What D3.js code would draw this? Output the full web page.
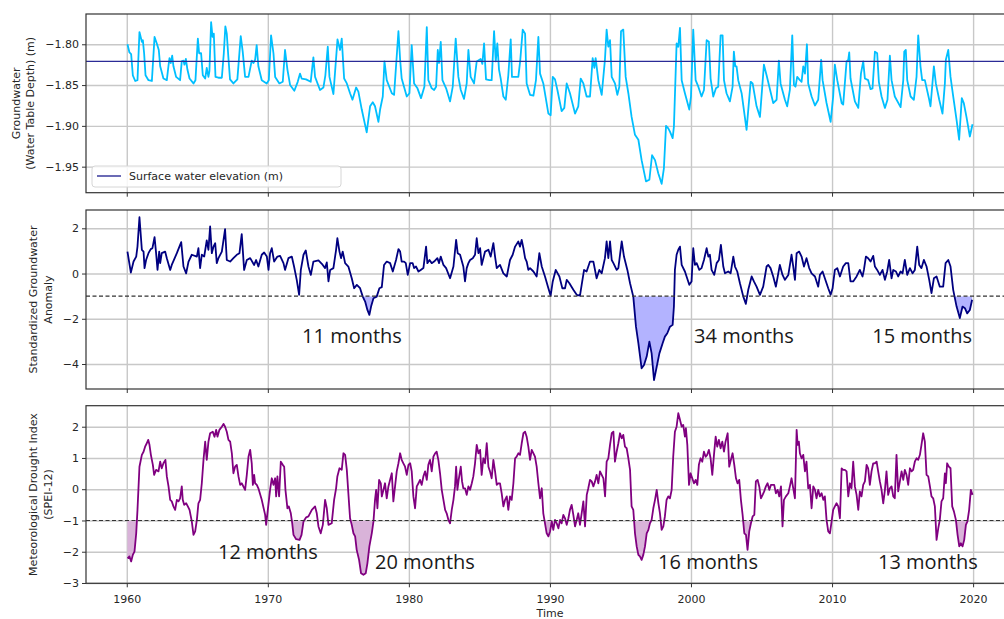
<!DOCTYPE html>
<html>
<head>
<meta charset="utf-8">
<script src="https://cdn.jsdelivr.net/npm/d3@7"></script>
<style>
  body { margin: 0; background: #ffffff; }
  svg text { font-family: "DejaVu Sans", sans-serif; }
  .tick text { font-size: 11px; fill: #262626; }
  .axis-title { font-size: 11px; fill: #262626; }
  .legend-text { font-size: 11px; fill: #262626; }
  .note { font-family: "Open Sans", sans-serif; font-size: 20px; fill: #1a1a1a; }
</style>
</head>
<body>
<div id="app"></div>
<script>
// ---- data (decimal years) ----
const xTicks = [1960, 1970, 1980, 1990, 2000, 2010, 2020];
const gwTicks = [-1.80, -1.85, -1.90, -1.95];
const sgiTicks = [2, 0, -2, -4];
const speiTicks = [2, 1, 0, -1, -2, -3];
const surfaceElevation = -1.821;
const droughtThreshold = -1;

// groundwater, water table depth (m)
const gwYears = [1960.05,1960.19,1960.31,1960.43,1960.6,1960.76,1960.9,1961.07,1961.14,1961.23,1961.33,1961.54,1961.78,1961.97,1962.13,1962.27,1962.37,1962.6,1962.84,1962.96,1963.03,1963.12,1963.22,1963.31,1963.5,1963.78,1963.9,1964.02,1964.09,1964.19,1964.3,1964.45,1964.73,1964.87,1965.04,1965.13,1965.27,1965.39,1965.56,1965.67,1965.79,1965.86,1965.98,1966.08,1966.17,1966.29,1966.5,1966.74,1966.88,1966.99,1967.09,1967.2,1967.32,1967.56,1967.84,1968.08,1968.22,1968.39,1968.63,1968.86,1968.98,1969.1,1969.21,1969.33,1969.57,1969.92,1970.07,1970.23,1970.4,1970.52,1970.82,1971.06,1971.22,1971.39,1971.58,1971.88,1972.12,1972.28,1972.4,1972.71,1973.04,1973.23,1973.35,1973.7,1973.94,1974.08,1974.25,1974.37,1974.65,1974.94,1975.12,1975.24,1975.41,1975.6,1975.83,1976.0,1976.26,1976.42,1976.66,1977.01,1977.25,1977.44,1977.6,1977.84,1977.96,1978.15,1978.27,1978.43,1978.79,1978.95,1979.26,1979.38,1979.49,1979.85,1980.04,1980.2,1980.37,1980.61,1980.86,1981.1,1981.27,1981.38,1981.62,1981.79,1981.93,1982.05,1982.14,1982.26,1982.38,1982.64,1982.92,1983.11,1983.32,1983.51,1983.68,1983.91,1984.1,1984.22,1984.38,1984.62,1984.81,1985.09,1985.21,1985.33,1985.47,1985.71,1985.87,1986.04,1986.16,1986.27,1986.39,1986.51,1986.7,1986.87,1987.05,1987.22,1987.31,1987.76,1987.9,1988.07,1988.24,1988.35,1988.59,1988.83,1989.01,1989.18,1989.3,1989.53,1989.89,1990.05,1990.2,1990.36,1990.53,1990.83,1991.02,1991.19,1991.42,1991.78,1992.01,1992.18,1992.37,1992.6,1992.84,1993.03,1993.15,1993.24,1993.43,1993.67,1993.9,1994.02,1994.14,1994.26,1994.38,1994.61,1994.78,1994.92,1995.04,1995.2,1995.37,1995.56,1995.79,1996.03,1996.27,1996.5,1996.81,1997.05,1997.24,1997.45,1997.68,1997.92,1998.08,1998.23,1998.39,1998.51,1998.7,1998.79,1998.98,1999.1,1999.22,1999.34,1999.57,1999.88,2000.0,2000.16,2000.33,2000.52,2000.75,2000.92,2001.11,2001.27,2001.39,2001.58,2001.77,2001.93,2002.1,2002.24,2002.34,2002.52,2002.76,2002.95,2003.04,2003.14,2003.23,2003.35,2003.59,2003.94,2004.23,2004.37,2004.65,2004.89,2005.17,2005.36,2005.83,2006.07,2006.23,2006.35,2006.66,2006.82,2007.01,2007.18,2007.3,2007.41,2007.53,2007.72,2007.84,2007.96,2008.08,2008.22,2008.31,2008.55,2008.79,2009.02,2009.23,2009.33,2009.61,2009.9,2010.08,2010.2,2010.37,2010.68,2010.79,2011.03,2011.15,2011.22,2011.31,2011.62,2011.86,2012.05,2012.21,2012.33,2012.56,2012.73,2012.87,2013.04,2013.2,2013.32,2013.51,2013.75,2013.93,2014.1,2014.22,2014.45,2014.86,2015.05,2015.12,2015.23,2015.33,2015.57,2015.8,2015.99,2016.11,2016.27,2016.39,2016.58,2016.89,2016.98,2017.22,2017.36,2017.6,2017.83,2018.0,2018.07,2018.24,2018.4,2018.59,2018.83,2019.01,2019.2,2019.34,2019.53,2019.77,2019.96];
const gwDepth = [-1.800,-1.810,-1.812,-1.838,-1.845,-1.844,-1.785,-1.797,-1.795,-1.811,-1.838,-1.844,-1.845,-1.791,-1.799,-1.807,-1.827,-1.842,-1.844,-1.826,-1.817,-1.823,-1.814,-1.827,-1.840,-1.844,-1.821,-1.820,-1.825,-1.818,-1.831,-1.842,-1.848,-1.844,-1.793,-1.811,-1.811,-1.838,-1.842,-1.829,-1.840,-1.833,-1.773,-1.791,-1.787,-1.840,-1.841,-1.841,-1.811,-1.778,-1.787,-1.815,-1.843,-1.848,-1.843,-1.790,-1.809,-1.840,-1.840,-1.820,-1.823,-1.819,-1.801,-1.827,-1.844,-1.848,-1.844,-1.789,-1.811,-1.840,-1.848,-1.846,-1.807,-1.831,-1.850,-1.857,-1.846,-1.836,-1.842,-1.843,-1.846,-1.816,-1.840,-1.856,-1.853,-1.838,-1.803,-1.840,-1.861,-1.794,-1.807,-1.793,-1.842,-1.848,-1.860,-1.868,-1.853,-1.858,-1.880,-1.908,-1.876,-1.871,-1.876,-1.895,-1.880,-1.864,-1.821,-1.844,-1.860,-1.862,-1.784,-1.819,-1.842,-1.864,-1.860,-1.801,-1.848,-1.854,-1.866,-1.852,-1.779,-1.844,-1.854,-1.856,-1.852,-1.807,-1.823,-1.797,-1.844,-1.854,-1.870,-1.852,-1.793,-1.840,-1.856,-1.867,-1.848,-1.807,-1.840,-1.848,-1.821,-1.818,-1.824,-1.799,-1.843,-1.844,-1.844,-1.784,-1.821,-1.799,-1.831,-1.842,-1.864,-1.868,-1.838,-1.794,-1.840,-1.840,-1.819,-1.782,-1.787,-1.848,-1.862,-1.863,-1.844,-1.791,-1.836,-1.848,-1.885,-1.887,-1.840,-1.843,-1.856,-1.882,-1.878,-1.848,-1.860,-1.885,-1.876,-1.842,-1.848,-1.864,-1.864,-1.817,-1.829,-1.817,-1.844,-1.862,-1.819,-1.782,-1.803,-1.795,-1.840,-1.848,-1.862,-1.852,-1.784,-1.782,-1.840,-1.860,-1.889,-1.911,-1.917,-1.942,-1.968,-1.966,-1.936,-1.942,-1.958,-1.971,-1.952,-1.900,-1.903,-1.907,-1.915,-1.901,-1.799,-1.803,-1.780,-1.844,-1.860,-1.880,-1.864,-1.782,-1.844,-1.852,-1.864,-1.856,-1.795,-1.797,-1.842,-1.864,-1.854,-1.852,-1.789,-1.789,-1.844,-1.860,-1.870,-1.852,-1.809,-1.827,-1.827,-1.844,-1.860,-1.905,-1.846,-1.848,-1.876,-1.889,-1.825,-1.838,-1.872,-1.868,-1.820,-1.848,-1.868,-1.876,-1.856,-1.789,-1.850,-1.852,-1.840,-1.844,-1.846,-1.827,-1.836,-1.800,-1.848,-1.864,-1.875,-1.868,-1.819,-1.844,-1.872,-1.895,-1.864,-1.825,-1.844,-1.872,-1.874,-1.821,-1.819,-1.810,-1.842,-1.870,-1.878,-1.836,-1.821,-1.842,-1.844,-1.855,-1.854,-1.809,-1.811,-1.846,-1.864,-1.878,-1.868,-1.814,-1.844,-1.864,-1.877,-1.844,-1.809,-1.807,-1.844,-1.864,-1.868,-1.840,-1.789,-1.827,-1.844,-1.844,-1.868,-1.876,-1.827,-1.848,-1.868,-1.885,-1.848,-1.819,-1.807,-1.840,-1.864,-1.893,-1.917,-1.866,-1.872,-1.889,-1.913,-1.898];

// standardized groundwater anomaly
const sgiYears = [1960.05,1960.29,1960.48,1960.67,1960.76,1960.9,1961.07,1961.19,1961.26,1961.37,1961.54,1961.7,1961.82,1961.97,1962.08,1962.18,1962.3,1962.37,1962.48,1962.72,1962.84,1963.08,1963.19,1963.55,1963.86,1964.02,1964.21,1964.38,1964.61,1964.97,1965.08,1965.2,1965.32,1965.49,1965.67,1965.79,1965.91,1966.03,1966.15,1966.27,1966.38,1966.5,1966.74,1966.97,1967.09,1967.33,1967.56,1967.8,1967.99,1968.15,1968.32,1968.51,1968.75,1969.03,1969.17,1969.33,1969.57,1969.74,1969.93,1970.05,1970.16,1970.28,1970.45,1970.68,1970.87,1971.11,1971.22,1971.46,1971.7,1971.86,1972.05,1972.22,1972.34,1972.53,1972.69,1972.88,1973.05,1973.23,1973.59,1973.83,1974.06,1974.18,1974.3,1974.42,1974.65,1974.84,1974.93,1975.08,1975.19,1975.31,1975.48,1975.71,1975.95,1976.12,1976.31,1976.54,1976.73,1976.9,1977.06,1977.2,1977.32,1977.49,1977.72,1977.91,1978.08,1978.24,1978.43,1978.67,1978.86,1979.09,1979.26,1979.38,1979.49,1979.66,1979.78,1979.92,1980.09,1980.27,1980.37,1980.51,1980.68,1980.84,1981.03,1981.22,1981.31,1981.46,1981.62,1981.79,1982.02,1982.14,1982.26,1982.45,1982.64,1982.92,1983.16,1983.35,1983.46,1983.63,1983.86,1983.98,1984.1,1984.22,1984.34,1984.53,1984.69,1984.81,1984.93,1985.05,1985.16,1985.4,1985.64,1985.8,1985.99,1986.11,1986.23,1986.46,1986.7,1986.94,1987.17,1987.36,1987.53,1987.76,1987.88,1988.0,1988.12,1988.24,1988.35,1988.47,1988.59,1988.83,1989.06,1989.25,1989.42,1989.65,1989.89,1990.05,1990.2,1990.41,1990.67,1990.88,1991.07,1991.19,1991.38,1991.66,1991.9,1992.13,1992.25,1992.42,1992.6,1992.84,1993.08,1993.31,1993.5,1993.67,1993.9,1994.02,1994.14,1994.26,1994.38,1994.5,1994.73,1994.85,1995.09,1995.25,1995.49,1995.68,1995.91,1996.1,1996.27,1996.5,1996.67,1996.86,1997.05,1997.21,1997.38,1997.57,1997.76,1997.99,1998.15,1998.32,1998.51,1998.7,1998.79,1998.86,1998.98,1999.1,1999.22,1999.34,1999.57,1999.88,2000.04,2000.16,2000.28,2000.4,2000.59,2000.75,2000.92,2001.11,2001.23,2001.34,2001.46,2001.65,2001.82,2001.98,2002.12,2002.29,2002.41,2002.64,2002.81,2003.0,2003.12,2003.28,2003.47,2003.71,2003.89,2004.06,2004.3,2004.46,2004.65,2004.89,2005.12,2005.36,2005.48,2005.64,2005.83,2006.02,2006.19,2006.3,2006.49,2006.66,2006.9,2007.13,2007.25,2007.37,2007.49,2007.67,2007.84,2008.01,2008.19,2008.38,2008.55,2008.79,2009.02,2009.14,2009.33,2009.49,2009.73,2009.9,2010.04,2010.2,2010.37,2010.56,2010.79,2010.98,2011.15,2011.31,2011.5,2011.74,2011.97,2012.16,2012.26,2012.4,2012.56,2012.73,2012.92,2013.04,2013.2,2013.39,2013.58,2013.75,2013.91,2014.05,2014.22,2014.34,2014.53,2014.69,2014.86,2015.0,2015.16,2015.33,2015.52,2015.71,2015.87,2016.04,2016.18,2016.34,2016.51,2016.7,2016.89,2017.05,2017.22,2017.41,2017.64,2017.88,2018.05,2018.24,2018.4,2018.59,2018.83,2019.06,2019.25,2019.42,2019.58,2019.77,2019.93];
const sgiValue = [0.97,0.04,0.53,0.75,1.19,2.49,1.05,0.97,0.24,0.60,0.90,1.08,1.12,1.61,0.90,0.16,0.97,0.46,0.90,0.97,0.68,0.16,0.38,0.90,1.39,0.31,0.01,0.53,0.83,0.75,1.12,0.24,0.83,0.75,1.46,1.05,2.08,0.90,1.19,1.34,0.46,0.68,0.97,1.96,0.60,0.53,0.68,0.83,0.90,1.74,0.16,0.60,0.68,0.38,0.60,0.31,0.83,0.93,0.75,0.16,0.90,1.12,0.53,0.75,0.78,0.46,0.16,0.68,0.75,0.31,-0.28,-0.94,0.16,0.83,1.02,0.31,-0.06,0.53,0.58,0.43,0.24,0.49,-0.35,0.16,0.24,1.05,1.56,0.97,0.68,0.97,0.46,0.31,-0.21,-0.65,-0.50,-0.65,-1.02,-1.24,-1.61,-1.83,-1.46,-1.09,-1.02,-0.65,-0.60,0.38,0.53,0.46,0.09,0.60,1.08,0.97,0.53,0.53,0.46,-0.06,0.46,0.46,0.24,0.31,0.09,0.16,0.24,1.19,0.46,0.60,0.46,0.53,0.68,0.46,0.75,0.38,0.24,-0.21,0.31,1.49,0.90,0.83,0.31,-0.35,0.24,0.46,0.60,0.68,0.83,1.56,0.90,1.12,0.38,0.97,1.05,0.75,1.34,0.75,0.24,0.38,0.01,-0.13,0.60,0.83,1.19,1.42,1.19,1.49,1.12,0.68,0.53,0.16,0.24,0.09,-0.13,0.90,0.31,-0.13,-0.65,-0.98,-0.35,0.16,-0.13,-0.65,-0.65,-0.28,-0.43,-0.72,-0.94,-0.98,-0.50,0.16,0.09,0.53,0.53,-0.21,0.16,0.01,0.68,1.42,0.68,1.42,0.60,0.46,0.16,0.24,1.42,0.75,0.16,-0.43,-1.02,-2.35,-3.08,-4.19,-4.04,-3.67,-3.01,-3.53,-4.71,-4.12,-3.53,-3.08,-2.79,-2.64,-2.35,-2.27,-1.46,0.16,0.83,1.05,1.19,0.38,0.09,-0.50,-0.35,1.12,0.38,0.46,0.16,0.24,0.60,1.12,0.75,0.83,0.16,-0.06,0.46,0.60,1.27,0.31,0.01,0.09,0.01,0.75,0.31,0.09,-0.43,-1.02,-1.34,-0.72,-0.13,-0.35,-0.58,-0.94,-0.58,0.31,0.38,0.24,-0.13,-0.58,0.01,0.38,-0.06,-0.28,-0.06,0.83,0.31,-0.28,0.90,0.97,0.75,0.31,0.68,0.24,0.01,-0.13,-0.58,-0.06,0.09,-0.21,-0.65,-0.94,-0.65,0.16,0.24,-0.13,0.31,0.46,0.46,-0.35,-0.35,-0.13,0.16,-0.13,0.16,0.75,0.68,0.53,0.78,0.31,0.16,-0.06,0.16,-0.28,0.09,0.60,-0.21,0.16,0.09,-0.13,0.09,0.01,0.60,-0.06,0.24,0.01,0.16,1.19,0.38,0.24,0.60,0.31,-0.28,-0.87,-0.21,-0.13,-0.58,-0.58,0.46,0.60,0.31,-0.72,-1.46,-1.97,-1.46,-1.53,-1.76,-1.61,-1.16];

// meteorological drought index, SPEI-12
const speiYears = [1960.05,1960.19,1960.31,1960.43,1960.55,1960.67,1960.76,1960.9,1961.07,1961.19,1961.3,1961.42,1961.52,1961.61,1961.71,1961.85,1961.94,1962.08,1962.25,1962.37,1962.48,1962.6,1962.74,1962.84,1962.96,1963.08,1963.19,1963.31,1963.43,1963.55,1963.67,1963.78,1963.9,1963.97,1964.07,1964.21,1964.33,1964.45,1964.61,1964.73,1964.85,1964.97,1965.08,1965.2,1965.32,1965.44,1965.56,1965.67,1965.79,1965.91,1966.1,1966.22,1966.34,1966.43,1966.57,1966.74,1966.86,1966.97,1967.09,1967.21,1967.33,1967.45,1967.56,1967.68,1967.8,1967.92,1968.04,1968.15,1968.39,1968.51,1968.63,1968.75,1968.86,1968.94,1969.03,1969.1,1969.22,1969.33,1969.57,1969.81,1969.88,1970.0,1970.16,1970.28,1970.4,1970.52,1970.59,1970.68,1970.8,1970.92,1971.06,1971.16,1971.25,1971.39,1971.49,1971.63,1971.73,1971.82,1972.01,1972.25,1972.39,1972.53,1972.72,1972.88,1973.12,1973.35,1973.47,1973.59,1973.75,1973.9,1974.06,1974.18,1974.3,1974.53,1974.7,1974.84,1974.93,1975.08,1975.24,1975.36,1975.48,1975.6,1975.71,1975.83,1975.95,1976.07,1976.19,1976.3,1976.47,1976.61,1976.78,1976.94,1977.06,1977.2,1977.37,1977.49,1977.6,1977.68,1977.77,1977.89,1978.01,1978.08,1978.2,1978.31,1978.43,1978.55,1978.67,1978.79,1978.9,1979.02,1979.14,1979.26,1979.38,1979.49,1979.61,1979.73,1979.85,1979.97,1980.09,1980.2,1980.32,1980.44,1980.56,1980.68,1980.79,1980.91,1981.03,1981.15,1981.27,1981.38,1981.5,1981.62,1981.74,1981.86,1981.97,1982.09,1982.21,1982.33,1982.45,1982.57,1982.68,1982.8,1982.92,1983.04,1983.16,1983.27,1983.35,1983.44,1983.53,1983.68,1983.77,1983.86,1983.98,1984.1,1984.22,1984.34,1984.46,1984.57,1984.69,1984.81,1984.93,1985.05,1985.16,1985.28,1985.4,1985.52,1985.64,1985.75,1985.87,1985.99,1986.11,1986.23,1986.35,1986.46,1986.58,1986.7,1986.82,1986.94,1987.05,1987.17,1987.29,1987.41,1987.53,1987.64,1987.76,1987.88,1988.0,1988.12,1988.24,1988.35,1988.47,1988.59,1988.71,1988.83,1988.94,1989.06,1989.18,1989.3,1989.42,1989.53,1989.65,1989.77,1989.89,1990.01,1990.13,1990.24,1990.36,1990.48,1990.6,1990.72,1990.83,1990.95,1991.07,1991.19,1991.31,1991.42,1991.54,1991.66,1991.78,1991.9,1992.01,1992.13,1992.25,1992.37,1992.49,1992.61,1992.72,1992.84,1992.96,1993.08,1993.2,1993.31,1993.43,1993.55,1993.67,1993.79,1993.91,1994.02,1994.14,1994.26,1994.38,1994.5,1994.61,1994.73,1994.85,1994.97,1995.09,1995.2,1995.32,1995.44,1995.56,1995.68,1995.79,1995.91,1996.03,1996.15,1996.27,1996.38,1996.5,1996.62,1996.74,1996.86,1996.98,1997.09,1997.21,1997.33,1997.45,1997.57,1997.69,1997.8,1997.92,1998.04,1998.15,1998.27,1998.39,1998.51,1998.63,1998.74,1998.86,1998.98,1999.1,1999.22,1999.34,1999.45,1999.57,1999.64,1999.74,1999.86,1999.97,2000.09,2000.21,2000.33,2000.45,2000.56,2000.68,2000.8,2000.92,2001.04,2001.15,2001.27,2001.39,2001.51,2001.63,2001.75,2001.86,2001.98,2002.1,2002.22,2002.34,2002.45,2002.6,2002.71,2002.83,2002.95,2003.07,2003.19,2003.3,2003.42,2003.54,2003.66,2003.78,2003.9,2004.01,2004.13,2004.25,2004.37,2004.49,2004.6,2004.72,2004.84,2004.96,2005.08,2005.19,2005.31,2005.43,2005.55,2005.67,2005.78,2005.9,2006.02,2006.14,2006.26,2006.38,2006.49,2006.59,2006.73,2006.9,2007.01,2007.13,2007.25,2007.37,2007.49,2007.56,2007.65,2007.72,2007.84,2007.96,2008.08,2008.19,2008.31,2008.43,2008.55,2008.67,2008.79,2008.9,2009.02,2009.14,2009.26,2009.38,2009.49,2009.61,2009.73,2009.85,2009.97,2010.08,2010.2,2010.32,2010.44,2010.56,2010.68,2010.79,2010.91,2011.03,2011.15,2011.27,2011.38,2011.5,2011.62,2011.74,2011.86,2011.97,2012.09,2012.21,2012.33,2012.45,2012.56,2012.68,2012.8,2012.92,2013.04,2013.16,2013.27,2013.39,2013.51,2013.63,2013.75,2013.86,2013.98,2014.1,2014.22,2014.34,2014.45,2014.57,2014.69,2014.81,2014.93,2015.05,2015.16,2015.28,2015.4,2015.52,2015.64,2015.75,2015.87,2015.99,2016.11,2016.23,2016.34,2016.46,2016.58,2016.7,2016.82,2016.94,2017.05,2017.17,2017.29,2017.41,2017.53,2017.64,2017.76,2017.88,2018.0,2018.07,2018.16,2018.28,2018.4,2018.52,2018.64,2018.78,2018.9,2019.02,2019.13,2019.25,2019.37,2019.49,2019.6,2019.72,2019.84,2019.96];
const speiValue = [-2.21,-2.15,-2.31,-2.10,-1.99,-1.41,-0.66,0.72,1.10,1.20,1.36,1.47,1.58,1.42,1.10,0.78,0.46,0.62,0.57,0.88,0.67,0.83,0.94,0.41,0.09,-0.34,-0.39,-0.55,-0.66,-0.34,-0.39,-0.29,0.09,-0.34,-0.50,-0.45,-0.55,-0.66,-1.03,-1.46,-1.35,-0.98,-0.45,-0.34,0.19,0.94,1.52,0.94,1.52,1.79,1.84,1.68,1.90,1.68,1.90,2.00,2.09,2.00,1.84,1.58,1.52,1.15,0.51,0.72,0.78,0.41,0.14,0.19,-0.02,0.46,1.04,1.26,0.83,0.14,0.46,0.19,0.14,0.03,-0.34,-0.82,-1.14,-0.66,-0.02,0.35,0.14,0.35,-0.23,0.41,-0.23,0.88,0.78,0.72,-0.02,-0.61,-0.55,-0.77,-1.09,-1.46,-1.60,-1.62,-1.46,-1.03,-0.90,-0.87,-0.66,-0.55,-0.77,-1.19,-1.41,-1.14,-0.34,-0.61,-1.14,-1.09,-0.34,0.03,0.41,0.67,0.62,1.15,1.10,0.62,-0.13,-0.93,-1.14,-1.41,-1.51,-1.94,-2.26,-2.69,-2.74,-2.69,-2.37,-1.83,-1.41,-1.03,-0.34,-0.02,-0.61,0.30,0.19,-0.23,-0.02,0.19,-0.29,0.09,0.30,0.51,-0.39,0.09,0.57,0.83,1.15,0.94,0.83,0.72,0.46,0.78,0.83,0.57,-0.23,-0.61,0.09,0.19,0.30,0.14,0.41,0.57,0.30,0.78,0.94,0.57,1.04,1.15,1.20,0.94,0.51,-0.02,-0.34,-0.66,-0.77,-0.98,-1.09,-0.66,-0.34,0.09,0.72,-0.02,0.30,0.72,0.25,0.03,0.03,-0.18,0.09,-0.02,0.19,0.41,0.83,1.42,1.15,1.26,0.46,0.99,0.83,1.47,0.72,0.57,0.35,0.94,0.57,0.14,0.19,0.19,-0.13,-0.55,-0.34,-0.23,-0.66,-0.23,-0.34,0.19,0.99,1.04,1.15,1.10,1.47,1.79,1.84,1.68,1.36,0.94,1.26,1.15,1.04,0.72,0.19,-0.29,0.03,-0.77,-1.09,-1.41,-1.51,-1.35,-1.03,-1.30,-0.98,-1.09,-1.25,-0.98,-1.09,-0.82,-0.93,-1.14,-0.93,-0.66,-0.50,-0.82,-1.19,-0.98,-0.77,-1.14,-0.77,-0.39,-1.19,-0.18,0.03,0.30,0.25,0.09,0.25,0.46,0.19,0.57,0.46,0.35,-0.23,0.88,0.99,1.42,1.79,1.84,0.88,1.20,1.47,1.79,1.63,1.74,1.36,1.31,0.99,0.62,-0.55,-0.66,-1.41,-1.83,-2.10,-2.15,-2.26,-2.10,-1.83,-1.41,-1.30,-1.09,-0.98,-0.61,-0.34,-0.02,-0.45,-0.77,-1.30,-1.19,-0.87,-0.34,-0.23,-0.29,-0.02,1.04,1.84,2.00,2.43,2.22,2.00,2.06,1.68,1.95,1.42,0.14,0.51,0.35,0.19,0.30,0.14,0.78,0.99,0.88,1.20,1.04,1.10,1.26,0.99,0.46,1.10,1.68,1.36,1.58,1.31,1.52,1.20,1.52,1.79,0.72,0.94,1.15,0.78,0.35,0.19,0.30,-0.34,-0.82,-1.41,-1.46,-1.94,-1.35,-1.09,-0.87,-0.82,0.25,0.30,0.09,-0.29,-0.18,-0.07,0.09,0.19,-0.02,0.14,0.14,0.14,-0.13,-0.02,-0.23,0.09,-1.19,-0.34,-0.23,-0.13,0.09,0.35,0.03,-0.29,1.90,1.42,1.52,1.15,0.99,1.10,0.57,0.88,0.03,0.14,-0.61,0.09,-0.02,-0.29,-0.02,-0.23,-0.13,-0.34,-0.23,-0.98,-1.35,-1.41,-1.03,-0.66,-0.55,-0.45,-0.55,-0.93,0.67,0.62,0.62,0.57,-0.23,0.19,0.03,0.88,0.09,-0.18,-0.66,-0.07,-0.23,0.14,0.25,0.78,0.67,0.14,0.57,0.83,0.83,0.88,0.57,0.25,-0.02,-0.45,-0.02,0.57,-0.18,0.03,0.09,-0.23,-0.29,1.10,-0.07,0.25,0.57,0.30,0.62,0.46,0.14,0.67,0.57,0.62,0.88,0.99,0.94,1.10,1.42,1.79,1.52,0.46,0.41,0.09,-0.23,-0.29,-0.55,-1.62,-1.25,-0.98,-0.39,-0.29,0.51,0.19,0.83,0.72,0.67,-0.55,-0.71,-0.98,-1.46,-1.83,-1.73,-1.83,-1.62,-1.14,-1.03,-0.66,-0.02,-0.18];

// shaded drought events [start, end]
const sgiEvents = [[1976.7, 1977.75], [1995.9, 1998.85], [2018.7, 2020.1]];
const speiEvents = [[1959.9, 1960.75], [1971.7, 1972.6], [1975.85, 1977.55], [1989.6, 1990.2], [1995.95, 1997.25], [2003.7, 2004.3], [2018.75, 2019.65]];

// event annotations [label, year, value]
const sgiNotes = [["11 months", 1972.43, -3.06], ["34 months", 2000.22, -3.06], ["15 months", 2012.85, -3.06]];
const speiNotes = [["12 months", 1966.47, -2.23], ["20 months", 1977.6, -2.55], ["16 months", 1997.67, -2.55], ["13 months", 2013.26, -2.55]];

// ---- chart settings ----
const chartSettings = { width: 1004, height: 619, left: 86, right: 1014, lineWidth: 1.8 };

const zip = (xs, ys) => xs.map((x, i) => ({ year: x, value: ys[i] }));

const panels = [
  {
    top: 14, bottom: 192.7, domain: [-1.9819, -1.7629],
    ticks: gwTicks, format: d3.format(".2f"),
    labels: ["Groundwater", "(Water Table Depth) (m)"], labelX: [19.5, 34],
    data: zip(gwYears, gwDepth), color: "#00bfff"
  },
  {
    top: 210, bottom: 389, domain: [-5.105, 2.809],
    ticks: sgiTicks, format: d3.format("d"),
    labels: ["Standardized Groundwater", "Anomaly"], labelX: [37, 51.5],
    data: zip(sgiYears, sgiValue), color: "#000080",
    events: sgiEvents, fill: "#b3b3ff", notes: sgiNotes
  },
  {
    top: 405.7, bottom: 583.3, domain: [-3.01, 2.672],
    ticks: speiTicks, format: d3.format("d"),
    labels: ["Meteorological Drought Index", "(SPEI-12)"], labelX: [37, 51.5],
    data: zip(speiYears, speiValue), color: "#800080",
    events: speiEvents, fill: "#d9b3d9", notes: speiNotes
  }
];

const svg = d3.select("#app")
  .append("svg")
  .attr("width", chartSettings.width)
  .attr("height", chartSettings.height);

const x = d3.scaleLinear()
  .domain([1957.11, 2022.9])
  .range([chartSettings.left, chartSettings.right]);

panels.forEach((p, idx) => {
  const y = d3.scaleLinear().domain(p.domain).range([p.bottom, p.top]);
  const g = svg.append("g").attr("class", "panel");
  const isLast = idx === panels.length - 1;

  // grid lines
  g.append("g")
    .attr("transform", `translate(0,${p.bottom})`)
    .call(d3.axisBottom(x).tickValues(xTicks).tickSize(-(p.bottom - p.top)).tickFormat(""))
    .call(s => s.select(".domain").remove())
    .call(s => s.selectAll("line").attr("stroke", "#c8c8c8").attr("stroke-width", 1.4));
  g.append("g")
    .attr("transform", `translate(${chartSettings.left},0)`)
    .call(d3.axisLeft(y).tickValues(p.ticks).tickSize(-(chartSettings.right - chartSettings.left)).tickFormat(""))
    .call(s => s.select(".domain").remove())
    .call(s => s.selectAll("line").attr("stroke", "#c8c8c8").attr("stroke-width", 1.4));

  // shaded drought events, clipped below the threshold
  if (p.events) {
    p.events.forEach(([start, end], k) => {
      const clipId = `clip-${idx}-${k}`;
      g.append("clipPath").attr("id", clipId)
        .append("rect")
        .attr("x", x(start)).attr("width", x(end) - x(start))
        .attr("y", y(droughtThreshold)).attr("height", p.bottom - y(droughtThreshold));
      g.append("path")
        .datum(p.data)
        .attr("clip-path", `url(#${clipId})`)
        .attr("fill", p.fill)
        .attr("d", d3.area().x(d => x(d.year)).y0(y(droughtThreshold)).y1(d => y(d.value)));
    });
  }

  // series line
  g.append("path")
    .datum(p.data)
    .attr("fill", "none")
    .attr("stroke", p.color)
    .attr("stroke-width", chartSettings.lineWidth)
    .attr("stroke-linejoin", "round")
    .attr("d", d3.line().x(d => x(d.year)).y(d => y(d.value)));

  // horizontal reference lines
  if (idx === 0) {
    g.append("line")
      .attr("x1", chartSettings.left).attr("x2", chartSettings.right)
      .attr("y1", y(surfaceElevation)).attr("y2", y(surfaceElevation))
      .attr("stroke", "#2b2b96").attr("stroke-width", 1.4);
  } else {
    g.append("line")
      .attr("x1", chartSettings.left).attr("x2", chartSettings.right)
      .attr("y1", y(droughtThreshold)).attr("y2", y(droughtThreshold))
      .attr("stroke", "#333").attr("stroke-width", 1.1)
      .attr("stroke-dasharray", "4,2.5");
  }

  // axes with tick labels
  const yAxis = g.append("g")
    .attr("transform", `translate(${chartSettings.left},0)`)
    .call(d3.axisLeft(y).tickValues(p.ticks).tickSize(4).tickPadding(3).tickFormat(p.format));
  yAxis.select(".domain").remove();
  yAxis.selectAll("line").attr("stroke", "#333");

  const xAxis = g.append("g")
    .attr("transform", `translate(0,${p.bottom})`)
    .call(d3.axisBottom(x).tickValues(xTicks).tickSize(4).tickPadding(7.5)
      .tickFormat(isLast ? d3.format("d") : ""));
  xAxis.select(".domain").remove();
  xAxis.selectAll("line").attr("stroke", "#333");
  xAxis.selectAll("text").attr("font-family", "DejaVu Sans");
  yAxis.selectAll("text").attr("font-family", "DejaVu Sans");

  // frame
  g.append("rect")
    .attr("x", chartSettings.left).attr("y", p.top)
    .attr("width", chartSettings.right - chartSettings.left)
    .attr("height", p.bottom - p.top)
    .attr("fill", "none").attr("stroke", "#333").attr("stroke-width", 1.2);

  // y axis title, two lines
  const cy = (p.top + p.bottom) / 2;
  p.labels.forEach((txt, k) => {
    g.append("text")
      .attr("class", "axis-title")
      .attr("text-anchor", "middle")
      .attr("transform", `translate(${p.labelX[k]},${cy}) rotate(-90)`)
      .text(txt);
  });

  // annotations
  if (p.notes) {
    g.selectAll("text.note")
      .data(p.notes)
      .join("text")
      .attr("class", "note")
      .attr("x", d => x(d[1]))
      .attr("y", d => y(d[2]))
      .text(d => d[0]);
  }

  // legend in the first panel
  if (idx === 0) {
    const legend = g.append("g").attr("class", "legend");
    legend.append("rect")
      .attr("x", 92).attr("y", 166).attr("width", 249).attr("height", 21)
      .attr("rx", 3).attr("fill", "#fff").attr("fill-opacity", 0.85)
      .attr("stroke", "#d6d6d6");
    legend.append("line")
      .attr("x1", 97).attr("x2", 121).attr("y1", 176).attr("y2", 176)
      .attr("stroke", "#2b2b96").attr("stroke-width", 1.4);
    legend.append("text")
      .attr("class", "legend-text")
      .attr("x", 129).attr("y", 180)
      .text("Surface water elevation (m)");
  }
});

// shared x axis title
svg.append("text")
  .attr("class", "axis-title")
  .attr("text-anchor", "middle")
  .attr("x", (chartSettings.left + chartSettings.right) / 2)
  .attr("y", 617)
  .text("Time");
</script>
</body>
</html>
